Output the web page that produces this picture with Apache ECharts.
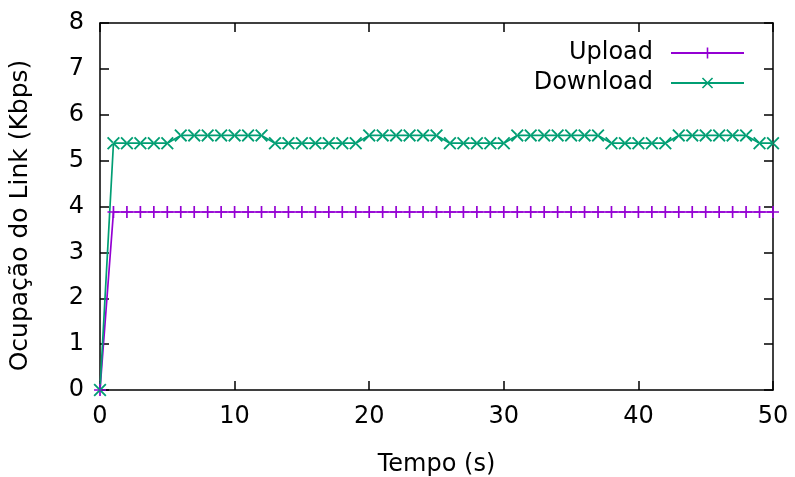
<!DOCTYPE html>
<html>
<head>
<meta charset="utf-8">
<script src="https://cdn.jsdelivr.net/npm/echarts@6/dist/echarts.min.js"></script>
<style>html,body{margin:0;padding:0;background:#fff}#c{width:795px;height:477px}</style>
</head>
<body>
<div id="c"></div>
<script>
var time = [0,1,2,3,4,5,6,7,8,9,10,11,12,13,14,15,16,17,18,19,20,21,22,23,24,25,26,27,28,29,30,31,32,33,34,35,36,37,38,39,40,41,42,43,44,45,46,47,48,49,50];
var upload = [0,3.88,3.88,3.88,3.88,3.88,3.88,3.88,3.88,3.88,3.88,3.88,3.88,3.88,3.88,3.88,3.88,3.88,3.88,3.88,3.88,3.88,3.88,3.88,3.88,3.88,3.88,3.88,3.88,3.88,3.88,3.88,3.88,3.88,3.88,3.88,3.88,3.88,3.88,3.88,3.88,3.88,3.88,3.88,3.88,3.88,3.88,3.88,3.88,3.88,3.88];
var download = [0,5.38,5.38,5.38,5.38,5.38,5.55,5.55,5.55,5.55,5.55,5.55,5.55,5.38,5.38,5.38,5.38,5.38,5.38,5.38,5.55,5.55,5.55,5.55,5.55,5.55,5.38,5.38,5.38,5.38,5.38,5.55,5.55,5.55,5.55,5.55,5.55,5.55,5.38,5.38,5.38,5.38,5.38,5.55,5.55,5.55,5.55,5.55,5.55,5.38,5.38];
var seriesNames = ['Upload','Download'];
var xTitle = 'Tempo (s)';
var yTitle = 'Ocupação do Link (Kbps)';

function pairs(xs, ys){ return xs.map(function(x,i){return [x, ys[i]];}); }

var plusPath = 'path://M0,4.3H10V5.7H0Z M4.3,0H5.7V10H4.3Z';
var crossPath = 'path://M0,1L1,0L10,9L9,10Z M10,1L9,0L0,9L1,10Z';
var font = 'DejaVu Sans';
var fs = 24;

var chart = echarts.init(document.getElementById('c'), null, {renderer:'canvas'});
var tickCommon = {show:true, inside:true, length:9, lineStyle:{color:'#000', width:1.5}};
chart.setOption({
  animation:false,
  backgroundColor:'#fff',
  textStyle:{fontFamily:font},
  grid:{left:100, right:22, top:23, bottom:87, containLabel:false, outerBoundsMode:'none'},
  legend:{
    right:50, top:41, orient:'vertical', align:'right', padding:0,
    itemWidth:73, itemHeight:14, itemGap:6,
    textStyle:{fontFamily:font, fontSize:fs, color:'#000', lineHeight:21, padding:[0,13,0,0]},
    data:seriesNames
  },
  xAxis:[{
    type:'value', min:0, max:50, interval:10,
    name:xTitle, nameLocation:'middle', nameGap:63,
    nameTextStyle:{fontFamily:font, fontSize:fs, color:'#000'},
    axisLine:{show:true, onZero:false, lineStyle:{color:'#000', width:1.5}},
    axisTick:tickCommon,
    axisLabel:{fontFamily:font, fontSize:fs, color:'#000', margin:15},
    splitLine:{show:false}
  },{
    type:'value', min:0, max:50, interval:10, position:'top',
    axisLine:{show:true, onZero:false, lineStyle:{color:'#000', width:1.5}},
    axisTick:tickCommon, axisLabel:{show:false}, splitLine:{show:false}
  }],
  yAxis:[{
    type:'value', min:0, max:8, interval:1,
    name:yTitle, nameLocation:'middle', nameGap:67, nameRotate:90,
    nameTextStyle:{fontFamily:font, fontSize:25, color:'#000', padding:[0,18,0,0]},
    axisLine:{show:true, onZero:false, lineStyle:{color:'#000', width:1.5}},
    axisTick:tickCommon,
    axisLabel:{fontFamily:font, fontSize:fs, color:'#000', margin:16},
    splitLine:{show:false}
  },{
    type:'value', min:0, max:8, interval:1, position:'right',
    axisLine:{show:true, onZero:false, lineStyle:{color:'#000', width:1.5}},
    axisTick:tickCommon, axisLabel:{show:false}, splitLine:{show:false}
  }],
  series:[{
    name:seriesNames[0], type:'line', data:pairs(time, upload),
    symbol:plusPath, symbolSize:12, showAllSymbol:true, clip:false,
    lineStyle:{color:'#9400d3', width:1.7},
    itemStyle:{color:'#9400d3'}
  },{
    name:seriesNames[1], type:'line', data:pairs(time, download),
    symbol:crossPath, symbolSize:[13,13], showAllSymbol:true, clip:false,
    lineStyle:{color:'#009e73', width:1.7},
    itemStyle:{color:'#009e73'}
  }]
});
</script>
</body>
</html>
